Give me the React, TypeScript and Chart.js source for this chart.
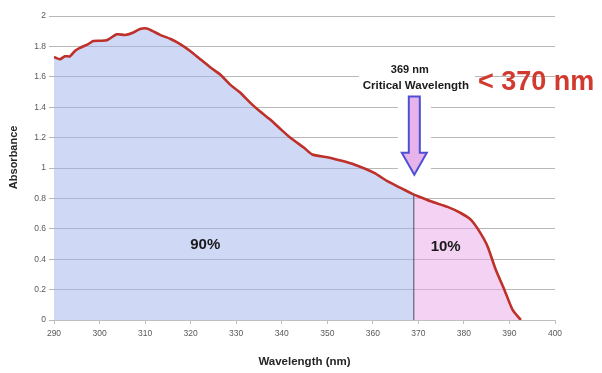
import React, { useEffect, useRef } from "react";
import { Chart, registerables } from "chart.js";

Chart.register(...registerables);

// ---- data ----
const wavelengths90 = [
  290.0, 291.3, 292.4, 293.5, 294.6, 295.7, 297.5, 298.6, 300.1, 301.6, 303.8, 305.6, 307.3, 308.9,
  310.4, 311.7, 313.3, 315.5, 317.7, 319.9, 322.1, 324.3, 326.5, 328.6, 330.8, 333.0, 335.2, 337.4,
  339.6, 341.9, 344.9, 346.7, 350.0, 352.9, 355.9, 360.3, 363.2, 366.1, 369.0,
];
const absorbance90 = [
  1.73, 1.715, 1.735, 1.735, 1.77, 1.79, 1.815, 1.835, 1.837, 1.84, 1.88, 1.875, 1.89, 1.915,
  1.918, 1.9, 1.876, 1.85, 1.815, 1.77, 1.716, 1.663, 1.615, 1.55, 1.498, 1.432, 1.373, 1.32,
  1.26, 1.199, 1.133, 1.089, 1.071, 1.049, 1.023, 0.968, 0.913, 0.869, 0.825,
];
const wavelengths10 = [369.0, 372.7, 376.4, 379.3, 381.5, 383.4, 385.2, 387.0, 388.9, 390.7, 392.2, 392.5];
const absorbance10 = [0.825, 0.781, 0.744, 0.704, 0.66, 0.583, 0.484, 0.33, 0.198, 0.066, 0.011, 0];

const criticalWavelength = 369;
const criticalAbsorbance = 0.825;
const xMin = 290;
const xMax = 400;
const xStep = 10;
const yMin = 0;
const yMax = 2;
const yStep = 0.2;
const xTitle = "Wavelength (nm)";
const yTitle = "Absorbance";
const criticalLabel1 = "369 nm";
const criticalLabel2 = "Critical Wavelength";
const limitLabel = "< 370 nm";
const shareLabels = ["90%", "10%"];

const FONT = "'Liberation Sans', Arial, sans-serif";

const annotationPlugin = {
  id: "annotations",
  afterDatasetsDraw(chart: any) {
    const { ctx, scales } = chart;
    const x = scales.x;
    const y = scales.y;
    const cx = x.getPixelForValue(criticalWavelength);
    ctx.save();
    // white boxes behind label and arrow
    ctx.fillStyle = "#ffffff";
    const tTop = y.getPixelForValue(1.69);
    const tBot = y.getPixelForValue(1.49);
    ctx.fillRect(cx - 55, tTop, 116, tBot - tTop);
    const aTop = y.getPixelForValue(1.52);
    const aBot = y.getPixelForValue(0.95);
    ctx.fillRect(cx - 16, aTop, 33, aBot - aTop);

    // arrow
    const bodyTop = y.getPixelForValue(1.47);
    const headTop = y.getPixelForValue(1.1);
    const tip = y.getPixelForValue(0.955);
    const ax = cx + 0.5;
    ctx.beginPath();
    ctx.moveTo(ax - 5.5, bodyTop);
    ctx.lineTo(ax + 5.5, bodyTop);
    ctx.lineTo(ax + 5.5, headTop);
    ctx.lineTo(ax + 12.5, headTop);
    ctx.lineTo(ax, tip);
    ctx.lineTo(ax - 12.5, headTop);
    ctx.lineTo(ax - 5.5, headTop);
    ctx.closePath();
    ctx.fillStyle = "#e6b3ea";
    ctx.fill();
    ctx.lineWidth = 2;
    ctx.strokeStyle = "#4f4fd6";
    ctx.stroke();

    // critical wavelength label
    ctx.fillStyle = "#1a1a1a";
    ctx.textAlign = "center";
    ctx.textBaseline = "middle";
    ctx.font = `bold 11px ${FONT}`;
    ctx.fillText(criticalLabel1, cx - 4, y.getPixelForValue(1.648));
    ctx.font = `bold 11.5px ${FONT}`;
    ctx.fillText(criticalLabel2, cx + 2, y.getPixelForValue(1.543));

    // red limit label
    ctx.fillStyle = "#d23a2f";
    ctx.textAlign = "left";
    ctx.font = `bold 27px ${FONT}`;
    ctx.fillText(limitLabel, x.getPixelForValue(383.1), y.getPixelForValue(1.56));

    // share labels
    ctx.fillStyle = "#1a1a1a";
    ctx.textAlign = "center";
    ctx.font = `bold 15px ${FONT}`;
    ctx.fillText(shareLabels[0], x.getPixelForValue(323.2), y.getPixelForValue(0.495));
    ctx.fillText(shareLabels[1], x.getPixelForValue(376), y.getPixelForValue(0.481));

    // y axis title
    ctx.save();
    ctx.translate(14, y.getPixelForValue(1.07));
    ctx.rotate(-Math.PI / 2);
    ctx.fillStyle = "#262626";
    ctx.font = `bold 11px ${FONT}`;
    ctx.fillText(yTitle, 0, 0);
    ctx.restore();

    ctx.restore();
  },
};

export default function App() {
  const ref = useRef<HTMLCanvasElement | null>(null);
  useEffect(() => {
    if (!ref.current) return;
    const blueData = wavelengths90.map((w, i) => ({ x: w, y: absorbance90[i] }));
    const pinkData = wavelengths10.map((w, i) => ({ x: w, y: absorbance10[i] }));
    const chart = new Chart(ref.current, {
      type: "line",
      data: {
        datasets: [
          {
            label: "critical",
            data: [
              { x: criticalWavelength, y: 0 },
              { x: criticalWavelength, y: criticalAbsorbance },
            ],
            borderColor: "#4b4b5a",
            borderWidth: 1,
            pointRadius: 0,
            fill: false,
            order: 0,
          },
          {
            label: "90",
            data: blueData,
            borderColor: "#be3029",
            borderWidth: 2.6,
            backgroundColor: "rgba(160,180,238,0.5)",
            fill: "origin",
            pointRadius: 0,
            tension: 0.2,
            order: 1,
          },
          {
            label: "10",
            data: pinkData,
            borderColor: "#be3029",
            borderWidth: 2.6,
            backgroundColor: "rgba(232,166,232,0.5)",
            fill: "origin",
            pointRadius: 0,
            tension: 0.2,
            order: 2,
          },
        ],
      },
      options: {
        responsive: false,
        animation: false,
        layout: { padding: { top: 16, right: 47, left: 0, bottom: 0 } },
        plugins: {
          legend: { display: false },
          tooltip: { enabled: false },
        },
        scales: {
          x: {
            type: "linear",
            min: xMin,
            max: xMax,
            afterFit: (s: any) => {
              s.height = 53;
            },
            ticks: {
              stepSize: xStep,
              color: "#595959",
              padding: 5,
              font: { family: FONT, size: 8.5 },
              maxRotation: 0,
            },
            grid: {
              drawOnChartArea: false,
              drawTicks: true,
              tickLength: 4,
              color: "#bfbfbf",
            },
            border: { color: "#bfbfbf" },
            title: { display: true, text: xTitle, color: "#262626", font: { family: FONT, size: 11.5, weight: "bold" }, padding: { top: 12 } },
          },
          y: {
            min: yMin,
            max: yMax,
            afterFit: (s: any) => {
              s.width = 54;
            },
            ticks: {
              stepSize: yStep,
              color: "#595959",
              padding: 3,
              font: { family: FONT, size: 8.5 },
              callback: (v: any) => String(Number(Number(v).toFixed(1))),
            },
            grid: {
              color: "#b8b8b8",
              tickLength: 5,
            },
            border: { display: false },
          },
        },
      },
      plugins: [annotationPlugin],
    });
    return () => chart.destroy();
  }, []);
  return (
    <div style={{ position: "fixed", left: 0, top: 0, width: 602, height: 373, background: "#fff" }}>
      <canvas ref={ref} width={602} height={373} style={{ display: "block" }} />
    </div>
  );
}
